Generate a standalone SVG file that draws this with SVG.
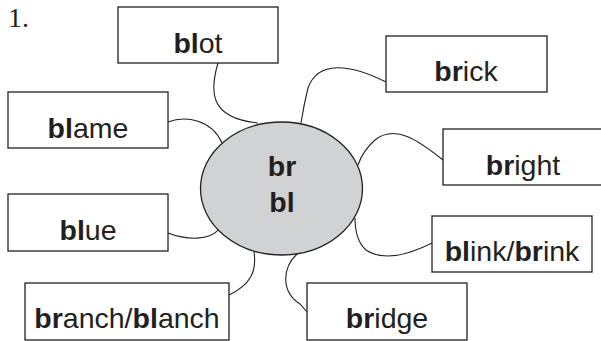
<svg xmlns="http://www.w3.org/2000/svg" width="601" height="341" viewBox="0 0 601 341">
<style>
.box{fill:#fff;stroke:#231f20;stroke-width:1.3}
.lbl{font-family:"Liberation Sans",Arial,sans-serif;font-size:28.5px;fill:#231f20;text-anchor:middle}
.b{font-weight:bold}
.con{fill:none;stroke:#231f20;stroke-width:1.1}
</style>
<rect width="601" height="341" fill="#fff"/>
<text x="8" y="27" font-family="Liberation Serif,Times New Roman,serif" font-size="28" fill="#231f20">1.</text>
<g id="connectors">
<path class="con" d="M218,63 C210,90 208,118 258,123"/>
<path class="con" d="M168,122 C186,115 212,120 222,143"/>
<path class="con" d="M386,82 C350,64 318,60 308,88 C305,100 303,110 301,123"/>
<path class="con" d="M443,160 C418,140 395,124 375,140 C366,148 361,156 358,165"/>
<path class="con" d="M168,233 C186,240 210,241 219,229"/>
<path class="con" d="M229,295 C250,285 257,272 254,252"/>
<path class="con" d="M432,243 C410,254 384,262 366,250 C357,242 355,230 355,218"/>
<path class="con" d="M297,254 C282,268 281,292 300,304 L307,312"/>
</g>
<g id="center">
<ellipse cx="281.5" cy="188.5" rx="81" ry="66.5" fill="#d1d2d4" stroke="#231f20" stroke-width="1.3"/>
<text class="lbl b" x="282" y="176" font-size="27">br</text>
<text class="lbl b" x="282" y="212" font-size="27">bl</text>
</g>
<g id="blot"><rect class="box" x="118" y="7" width="160" height="56"/><text class="lbl" x="198" y="53"><tspan class="b">bl</tspan>ot</text></g>
<g id="blame"><rect class="box" x="8" y="92" width="160" height="56"/><text class="lbl" x="88" y="138"><tspan class="b">bl</tspan>ame</text></g>
<g id="brick"><rect class="box" x="386" y="36" width="161" height="56"/><text class="lbl" x="466" y="81"><tspan class="b">br</tspan>ick</text></g>
<g id="bright"><rect class="box" x="443" y="129" width="160" height="56"/><text class="lbl" x="523" y="175"><tspan class="b">br</tspan>ight</text></g>
<g id="blue"><rect class="box" x="8" y="194" width="160" height="57"/><text class="lbl" x="88" y="240"><tspan class="b">bl</tspan>ue</text></g>
<g id="blink"><rect class="box" x="432" y="216" width="160" height="56"/><text class="lbl" x="512" y="261"><tspan class="b">bl</tspan>ink/<tspan class="b">br</tspan>ink</text></g>
<g id="branch"><rect class="box" x="25" y="283" width="204" height="57"/><text class="lbl" x="127" y="328"><tspan class="b">br</tspan>anch/<tspan class="b">bl</tspan>anch</text></g>
<g id="bridge"><rect class="box" x="307" y="283" width="160" height="57"/><text class="lbl" x="387" y="328"><tspan class="b">br</tspan>idge</text></g>
</svg>
